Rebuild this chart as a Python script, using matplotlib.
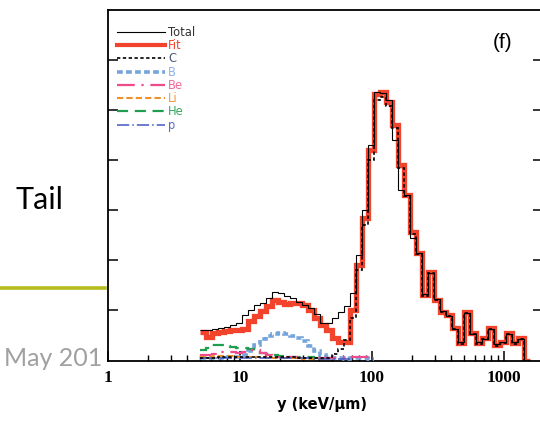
import numpy as np
import matplotlib
matplotlib.use("Agg")
import matplotlib.pyplot as plt
from matplotlib.lines import Line2D
from matplotlib.ticker import FixedLocator, LogLocator, NullFormatter

# ---- data ----
bin_start = 5.0          # keV/um, first bin edge
bins_per_decade = 22

total = [0.60, 0.60, 0.62, 0.64, 0.66, 0.70, 0.74, 0.90, 1.00, 1.10, 1.14, 1.24,
         1.36, 1.34, 1.28, 1.24, 1.16, 1.10, 1.04, 0.92, 0.74, 0.74, 0.84, 0.96,
         1.08, 1.34, 2.10, 3.00, 4.30, 5.36, 5.34, 5.20, 4.40, 3.40, 3.30, 2.44,
         2.14, 1.32, 1.74, 1.22, 0.98, 0.88, 0.62, 0.36, 0.94, 0.52, 0.36, 0.42,
         0.62, 0.32, 0.36, 0.52, 0.36, 0.42, 0.0]
fit = [0.56, 0.46, 0.54, 0.56, 0.58, 0.60, 0.60, 0.62, 0.78, 0.88, 0.98, 1.08,
       1.20, 1.16, 1.12, 1.14, 1.14, 1.10, 1.00, 0.84, 0.70, 0.60, 0.44, 0.36,
       0.36, 1.00, 1.90, 2.84, 4.20, 5.32, 5.36, 5.16, 4.70, 3.90, 3.30, 2.56,
       2.14, 1.30, 1.76, 1.20, 0.96, 0.90, 0.64, 0.34, 0.96, 0.54, 0.34, 0.44,
       0.64, 0.30, 0.36, 0.54, 0.34, 0.44, 0.0]
carbon = [0.04, 0.05, 0.05, 0.06, 0.06, 0.06, 0.07, 0.06, 0.06, 0.07, 0.06, 0.06,
          0.07, 0.06, 0.06, 0.06, 0.05, 0.05, 0.05, 0.05, 0.05, 0.05, 0.12, 0.22,
          0.40, 0.84, 1.80, 2.70, 4.00, 5.20, 5.26, 5.08, 4.64, 3.84, 3.28, 2.52,
          2.12, 1.28, 1.74, 1.20, 0.96, 0.88, 0.62, 0.32, 0.94, 0.52, 0.32, 0.42,
          0.62, 0.28, 0.34, 0.52, 0.32, 0.42, 0.0]
boron = [0.04, 0.04, 0.04, 0.04, 0.06, 0.06, 0.06, 0.10, 0.18, 0.30, 0.42, 0.48,
         0.52, 0.54, 0.52, 0.48, 0.44, 0.38, 0.28, 0.18, 0.10, 0.06, 0.04, 0.04,
         0.02, 0.04, 0.04, 0.04, 0.02]
beryllium = [0.10, 0.10, 0.12, 0.16, 0.16, 0.16, 0.14, 0.16, 0.20, 0.20, 0.14, 0.10,
             0.08, 0.06, 0.06, 0.06, 0.04, 0.04, 0.04, 0.04, 0.04, 0.04, 0.04, 0.04,
             0.04, 0.06, 0.06, 0.06, 0.06]
lithium = [0.06, 0.06, 0.08, 0.08, 0.08, 0.08, 0.06, 0.06, 0.06, 0.06, 0.06, 0.04,
           0.04, 0.04, 0.04, 0.04, 0.04, 0.02, 0.02, 0.02, 0.02]
helium = [0.20, 0.24, 0.30, 0.30, 0.28, 0.26, 0.24, 0.24, 0.22, 0.18, 0.14, 0.12,
          0.10, 0.08, 0.08, 0.06, 0.06, 0.06, 0.06, 0.04, 0.04, 0.04]
proton = [0.04] * 19 + [0.02] * 6

xtick_vals = [1, 10, 100, 1000]
xtick_labels = ["1", "10", "100", "1000"]
ytick_vals = [1, 2, 3, 4, 5, 6]

n_edges = len(fit) + 1
edges = bin_start * 10 ** (np.arange(n_edges) / bins_per_decade)

# ---- figure ----
W, H = 540, 421
fig = plt.figure(figsize=(W / 100, H / 100), dpi=100)
fig.patch.set_facecolor("white")

ax = fig.add_axes([108 / W, 1 - 360.5 / H, (543 - 108) / W, (360.5 - 10) / H])
ax.set_xscale("log")
ax.set_xlim(1, 10 ** ((543 - 108) / 132))
ax.set_ylim(0, 7.0)

red = "#f2442d"
series = [
    (fit, dict(color=red, lw=3.8, ls="-", zorder=2), "Fit", red),
    (boron, dict(color="#76a5dc", lw=2.6, ls=(0, (1.6, 0.9)), zorder=3), "B", "#8cb4e4"),
    (helium, dict(color="#1e9e4e", lw=1.6, ls=(0, (5, 3)), zorder=3), "He", "#35a860"),
    (beryllium, dict(color="#ee4a8c", lw=1.6, ls=(0, (8, 3, 1, 3)), zorder=3), "Be", "#f06a9c"),
    (lithium, dict(color="#f0902c", lw=1.5, ls=(0, (3, 1.5)), zorder=3), "Li", "#f09a40"),
    (proton, dict(color="#4457c0", lw=1.1, ls=(0, (8, 2, 1, 2)), zorder=3), "p", "#5c6cc8"),
    (total, dict(color="black", lw=0.8, ls="-", zorder=4), "Total", "#333333"),
    (carbon, dict(color="black", lw=1.2, ls=(0, (2, 1.5)), zorder=5), "C", "#4a5a78"),
]
for vals, style, lab, tcol in series:
    ax.stairs(vals, edges[:len(vals) + 1], baseline=None, fill=False,
              color=style["color"], lw=style["lw"], ls=style["ls"],
              zorder=style["zorder"])

# legend (proxy handles in original order)
order = ["Total", "Fit", "C", "B", "Be", "Li", "He", "p"]
lookup = {lab: (style, tcol) for _, style, lab, tcol in series}
handles, tcolors = [], []
for lab in order:
    style, tcol = lookup[lab]
    lw = style["lw"] if lab != "Fit" else 3.0
    handles.append(Line2D([], [], color=style["color"], lw=min(lw, 3.0), ls=style["ls"]))
    tcolors.append(tcol)
leg = fig.legend(handles, order, loc="upper left",
                 bbox_to_anchor=(117 / W, 1 - 26 / H),
                 frameon=False, handlelength=4.2,
                 handletextpad=0.25, labelspacing=0.02, borderpad=0,
                 borderaxespad=0, prop={"family": "DejaVu Sans", "size": 8.3})
for t, c in zip(leg.get_texts(), tcolors):
    t.set_color(c)

# axes styling
for sp in ax.spines.values():
    sp.set_linewidth(1.3)
    sp.set_color("black")
ax.xaxis.set_major_locator(FixedLocator(xtick_vals))
ax.set_xticklabels(xtick_labels, family="Liberation Serif", weight="bold", fontsize=12.5)
ax.xaxis.set_minor_locator(LogLocator(base=10, subs=np.arange(2, 10)))
ax.xaxis.set_minor_formatter(NullFormatter())
ax.set_yticks(ytick_vals)
ax.set_yticklabels([])
ax.tick_params(axis="x", which="major", direction="in", length=7, width=1.1, pad=7,
               top=False, bottom=True)
ax.tick_params(axis="x", which="minor", direction="in", length=4, width=1.0,
               top=False, bottom=True)
ax.tick_params(axis="y", which="major", direction="in", length=7, width=1.1,
               left=True, right=True)

fig.text(322 / W, 1 - 405 / H, "y (keV/\u03bcm)", ha="center", va="center",
         fontsize=10.5, weight="bold", family="DejaVu Sans")
fig.text(503 / W, 1 - 43 / H, "(f)", ha="center", va="center",
         fontsize=15, family="Liberation Sans")

# slide elements around the chart
fig.text(39 / W, 1 - 200 / H, "Tail", ha="center", va="center",
         fontsize=22, family="Lato", color="black")
fig.text(4 / W, 1 - 359 / H, "May 201", ha="left", va="center",
         fontsize=18, family="Lato", color="#a0a0a0")
fig.add_artist(Line2D([0, 105 / W], [1 - 288 / H, 1 - 288 / H],
                      color="#b7bc1e", lw=2.6, transform=fig.transFigure))

fig.savefig("out.png", dpi=100)
